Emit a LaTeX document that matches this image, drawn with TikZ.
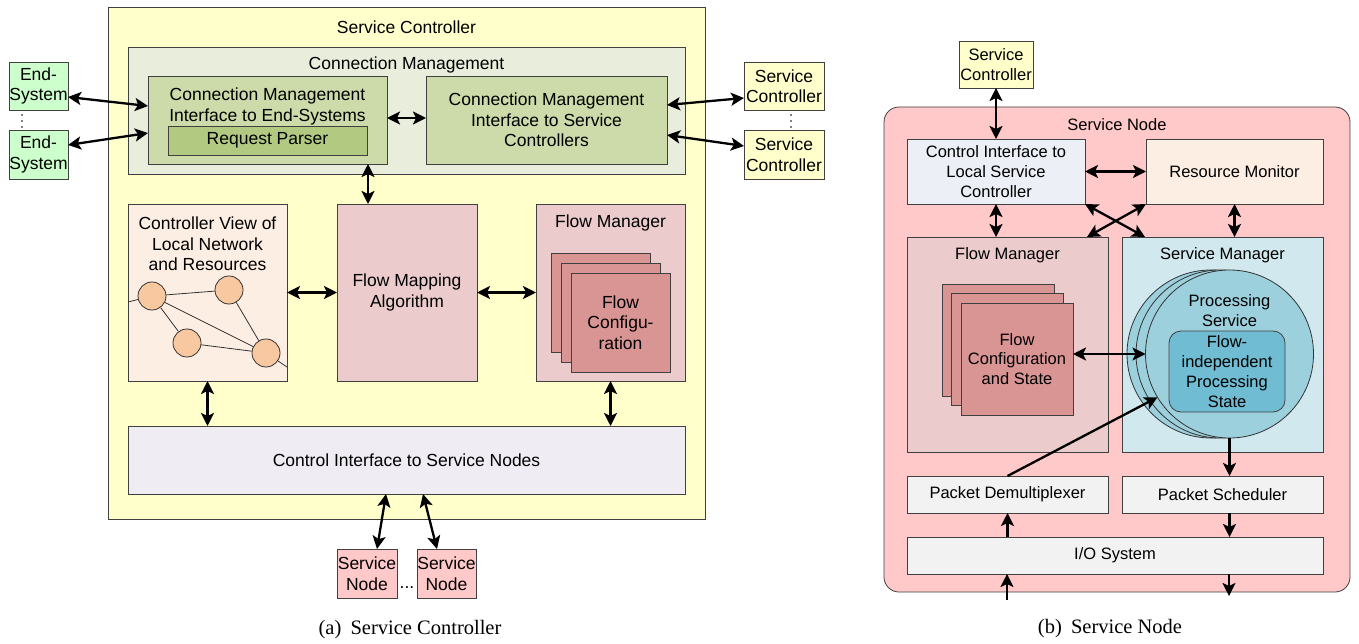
\documentclass[tikz,border=0pt]{standalone}
\usepackage{fontspec}
\setmainfont{Liberation Sans}
\newfontfamily\capfont{Liberation Serif}
\usetikzlibrary{arrows.meta,positioning,shapes.geometric,calc}
\definecolor{ctrlyellow}{HTML}{FFFFCC}
\definecolor{connmgmt}{HTML}{E9EDDC}
\definecolor{conniface}{HTML}{CCDBA9}
\definecolor{parser}{HTML}{B2C982}
\definecolor{endsys}{HTML}{CCFFCC}
\definecolor{viewpeach}{HTML}{FDEEE3}
\definecolor{flowpink}{HTML}{EBCBCB}
\definecolor{pagepink}{HTML}{D99594}
\definecolor{netnode}{HTML}{F8C8A0}
\definecolor{ctrlgrey}{HTML}{EFEDF3}
\definecolor{nodepink}{HTML}{FFC9C9}
\definecolor{localblue}{HTML}{ECEFF5}
\definecolor{svcmgr}{HTML}{D1E9EE}
\definecolor{procsvc}{HTML}{9DD0DD}
\definecolor{procstate}{HTML}{70BCD3}
\definecolor{pktgrey}{HTML}{F2F2F2}
\tikzset{
  block/.style={draw=black!75, line width=0.8pt, inner sep=0pt, outer sep=0pt, align=center, font=\fontsize{17.5pt}{20.5pt}\selectfont},
  sblock/.style={block, font=\fontsize{16.5pt}{19.8pt}\selectfont},
  label/.style={align=center, inner sep=0pt, font=\fontsize{17.5pt}{20.5pt}\selectfont},
  slabel/.style={label, font=\fontsize{16.5pt}{19.8pt}\selectfont},
  page/.style={block, fill=pagepink, minimum width=99pt, minimum height=99pt},
  rpage/.style={sblock, fill=pagepink, minimum width=112pt, minimum height=112pt},
  netnode/.style={circle, draw=black!80, line width=0.8pt, fill=netnode, minimum size=28pt, inner sep=0pt},
  netlink/.style={draw=black!80, line width=0.8pt},
  proc/.style={circle, draw=black!80, line width=0.8pt, fill=procsvc, minimum size=168pt, inner sep=0pt, outer sep=0pt},
  biarrow/.style={{Stealth[length=13pt,width=13pt,inset=3pt]}-{Stealth[length=13pt,width=13pt,inset=3pt]}, line width=2.3pt},
  uniarrow/.style={-{Stealth[length=13pt,width=13pt,inset=3pt]}, line width=2.3pt},
  caption/.style={font=\capfont\fontsize{20.5pt}{24pt}\selectfont},
}
\begin{document}
\begin{tikzpicture}[x=1pt,y=-1pt]
  \useasboundingbox (0,0) rectangle (1359,644);
  % (a) Service Controller
  \node[block, fill=ctrlyellow, minimum width=597pt, minimum height=512pt] (ctrl) at (406.5,263) {};
  \node[label] (ctrltitle) at (406.5,27) {Service Controller};
  \node[block, fill=connmgmt, minimum width=557pt, minimum height=127pt] (cm) at (406.5,110.5) {};
  \node[label] (cmtitle) at (406.5,65) {Connection Management};
  \node[block, fill=conniface, minimum width=239pt, minimum height=88pt] (cmes) at (267.5,120) {};
  \node[label] (cmestext) at (267.5,106.5) {Connection Management\\Interface to End-Systems};
  \node[block, fill=parser, minimum width=199pt, minimum height=29pt] (parser) at (267.5,140.5) {Request Parser};
  \node[block, fill=conniface, minimum width=241pt, minimum height=88pt] (cmsc) at (546.5,120) {Connection Management\\Interface to Service\\Controllers};
  \node[block, fill=endsys, minimum width=59pt, minimum height=48pt] (es1) at (38.5,86) {End-\\System};
  \node[block, fill=endsys, minimum width=59pt, minimum height=49pt] (es2) at (38.5,154.5) {End-\\System};
  \node[block, fill=ctrlyellow, minimum width=80pt, minimum height=48pt] (sc1) at (784,86) {Service\\Controller};
  \node[block, fill=ctrlyellow, minimum width=80pt, minimum height=49pt] (sc2) at (784,154.5) {Service\\Controller};
  \foreach \y in {115,121,127} {\fill (22,\y) circle (0.9pt); \fill (791,\y) circle (0.9pt);}
  \node[block, fill=viewpeach, minimum width=159pt, minimum height=177pt] (cv) at (207.5,292.5) {};
  \node[label] (cvtext) at (207.5,244) {Controller View of\\Local Network\\and Resources};
  \node[netnode] (n1) at (152,296) {};
  \node[netnode] (n2) at (229,290) {};
  \node[netnode] (n3) at (187,343) {};
  \node[netnode] (n4) at (266,353) {};
  \draw[netlink] (cv.west|-0,302) -- (n1) (n1) -- (n2) (n1) -- (n3) (n1) -- (n4)
    (n2) -- (n4) (n3) -- (n4) (n4) -- (cv.east|-0,367);
  \node[block, fill=flowpink, minimum width=140pt, minimum height=177pt] (fma) at (407,292.5) {Flow Mapping\\Algorithm};
  \node[block, fill=flowpink, minimum width=149pt, minimum height=177pt] (fm) at (610.5,292.5) {};
  \node[label] (fmtitle) at (610.5,223) {Flow Manager};
  \foreach \i/\d in {1/0,2/10} \node[page] (p\i) at (600.5+\d,302.5+\d) {};
  \node[page] (p3) at (620.5,322.5) {Flow\\Configu-\\ration};
  \node[block, fill=ctrlgrey, minimum width=557pt, minimum height=68pt] (ci) at (406.5,460) {Control Interface to Service Nodes};
  \node[block, fill=nodepink, minimum width=60pt, minimum height=49pt] (sn1) at (367,573.5) {Service\\Node};
  \node[block, fill=nodepink, minimum width=59pt, minimum height=49pt] (sn2) at (446.5,573.5) {Service\\Node};
  \node[label] (sndots) at (407,588) {...};
  \draw[biarrow] (es1.east|-0,97) -- (cmes.west|-0,106);
  \draw[biarrow] (es2.east|-0,145) -- (cmes.west|-0,133);
  \draw[biarrow] (cmsc.east|-0,105) -- (sc1.west|-0,98);
  \draw[biarrow] (cmsc.east|-0,135) -- (sc2.west|-0,146);
  \draw[biarrow] (cmes.east|-0,118) -- (cmsc.west|-0,118);
  \draw[biarrow] (cmes.south-|368,0) -- (fma.north-|368,0);
  \draw[biarrow] (cv.east) -- (fma.west);
  \draw[biarrow] (fma.east) -- (fm.west);
  \draw[biarrow] (cv.south) -- (ci.north-|cv.south);
  \draw[biarrow] (fm.south) -- (ci.north-|fm.south);
  \draw[biarrow] (ci.south-|386,0) -- (sn1.north-|377,0);
  \draw[biarrow] (ci.south-|423,0) -- (sn2.north-|437,0);
  \node[caption] (capa) at (410,630) {(a)\hspace{0.45em}Service Controller};
  % (b) Service Node
  \node[block, fill=ctrlyellow, minimum width=74pt, minimum height=47pt, font=\fontsize{16.5pt}{19.8pt}\selectfont] (sc3) at (996,64.5) {Service\\Controller};
  \node[block, fill=nodepink, rounded corners=15pt, minimum width=466pt, minimum height=485pt] (snode) at (1117,349.5) {};
  \node[slabel] (sntitle) at (1117,125) {Service Node};
  \node[sblock, fill=localblue, minimum width=178pt, minimum height=65pt] (cilsc) at (996,171.5) {Control Interface to\\Local Service\\Controller};
  \node[sblock, fill=viewpeach, minimum width=177pt, minimum height=65pt] (rm) at (1234.5,171.5) {Resource Monitor};
  \node[sblock, fill=flowpink, minimum width=201pt, minimum height=215pt] (fmr) at (1007.5,344.5) {};
  \node[slabel] (fmrtitle) at (1007.5,255) {Flow Manager};
  \node[sblock, fill=svcmgr, minimum width=201pt, minimum height=215pt] (sm) at (1222.5,344.5) {};
  \node[slabel] (smtitle) at (1222.5,255) {Service Manager};
  \foreach \i/\d in {1/0,2/9.5} \node[rpage] (q\i) at (998+\d,340+\d) {};
  \node[rpage] (q3) at (1017,359) {Flow\\Configuration\\and State};
  \foreach \i/\x in {1/1211,2/1220} \node[proc] (pc\i) at (\x,354) {};
  \node[proc] (pc3) at (1229.5,354) {};
  \node[slabel] (pctext) at (1229.5,310.5) {Processing\\Service};
  \node[sblock, fill=procstate, rounded corners=12pt, minimum width=116pt, minimum height=81pt] (fips) at (1227,371.5) {Flow-\\independent\\Processing\\State};
  \node[sblock, fill=pktgrey, minimum width=201pt, minimum height=37pt] (demux) at (1007.5,494.5) {Packet Demultiplexer};
  \node[sblock, fill=pktgrey, minimum width=201pt, minimum height=37pt] (sched) at (1222.5,494.5) {Packet Scheduler};
  \node[sblock, fill=pktgrey, minimum width=416pt, minimum height=37pt] (io) at (1115,555.5) {I/O System};
  \coordinate (ioin) at (1007,600);
  \coordinate (ioout) at (1229,596);
  \draw[biarrow] (sc3.south) -- (cilsc.north-|sc3.south);
  \draw[biarrow] (cilsc.east) -- (rm.west);
  \draw[biarrow] (cilsc.south) -- (fmr.north-|cilsc.south);
  \draw[biarrow] (rm.south) -- (sm.north-|rm.south);
  \draw[biarrow] (cilsc.south east) -- (sm.north-|1145,0);
  \draw[biarrow] (rm.south west) -- (fmr.north-|1087,0);
  \draw[biarrow] (q3.east|-0,354) -- (pc3.west);
  \draw[uniarrow] (demux.north) -- (pc3.211);
  \draw[uniarrow] (pc3.south) -- (sched.north-|pc3.south);
  \draw[uniarrow] (io.north-|demux.north) -- (demux.south);
  \draw[uniarrow] (sched.south-|pc3.south) -- (io.north-|pc3.south);
  \draw[uniarrow] (ioin) -- (io.south-|ioin);
  \draw[uniarrow] (io.south-|ioout) -- (ioout);
  \node[caption] (capb) at (1110,629) {(b)\hspace{0.45em}Service Node};
\end{tikzpicture}
\end{document}
